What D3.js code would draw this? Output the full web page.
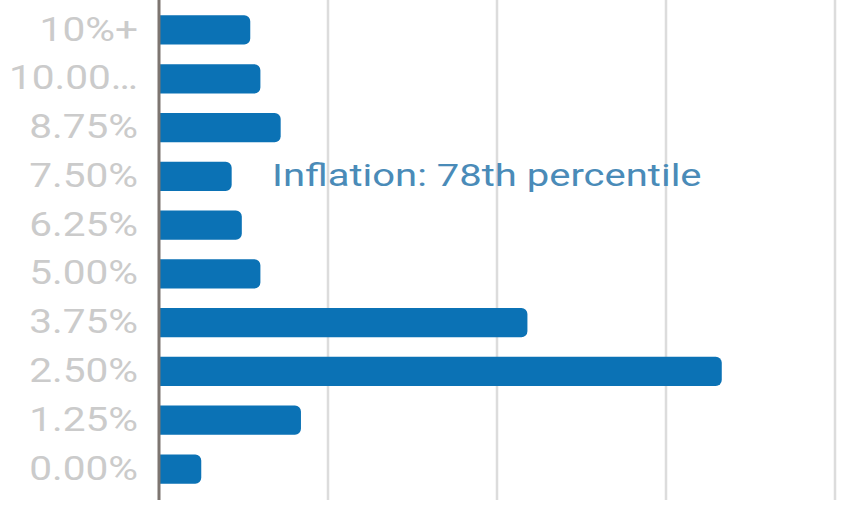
<!DOCTYPE html>
<html>
<head>
<meta charset="utf-8">
<script src="https://d3js.org/d3.v7.min.js"></script>
<style>
  body { margin: 0; background: #fff; }
  text { font-family: Roboto, sans-serif; }
</style>
</head>
<body>
<div id="my_dataviz"></div>
<script>
// data (share of answers, %)
var categories = ["10%+", "10.00…", "8.75%", "7.50%", "6.25%", "5.00%", "3.75%", "2.50%", "1.25%", "0.00%"];
var values = [5.4, 6.0, 7.2, 4.3, 4.9, 6.0, 21.8, 33.3, 8.4, 2.5];
var xTicks = [0, 10, 20, 30, 40];
var annotation = "Inflation: 78th percentile";

var width = 845, height = 505;
// the source picture is stretched sideways, so the text is too
var stretch = 1.23;

var svg = d3.select("#my_dataviz")
  .append("svg")
    .attr("width", width)
    .attr("height", height);

var data = categories.map(function(c, i) { return {cat: c, val: values[i]}; });

var x = d3.scaleLinear()
  .domain([0, 40])
  .range([159, 835]);

var y = d3.scaleBand()
  .domain(categories)
  .range([5.6, 493.4])
  .paddingInner(0.4)
  .paddingOuter(0.2);

// gridlines
svg.append("g")
  .selectAll("line")
  .data(xTicks.slice(1))
  .enter().append("line")
    .attr("x1", function(d) { return x(d); })
    .attr("x2", function(d) { return x(d); })
    .attr("y1", 0)
    .attr("y2", 500)
    .attr("stroke", "#dcdcdc")
    .attr("stroke-width", 2.5);

// bars with rounded right end
var r = 6;
svg.selectAll(".bar")
  .data(data)
  .enter().append("path")
    .attr("class", "bar")
    .attr("fill", "#0b72b5")
    .attr("d", function(d) {
      var x0 = x(0) + 1, x1 = x(d.val), y0 = y(d.cat), h = y.bandwidth();
      var p = d3.path();
      p.moveTo(x0, y0);
      p.lineTo(x1 - r, y0);
      p.arcTo(x1, y0, x1, y0 + r, r);
      p.lineTo(x1, y0 + h - r);
      p.arcTo(x1, y0 + h, x1 - r, y0 + h, r);
      p.lineTo(x0, y0 + h);
      p.closePath();
      return p.toString();
    });

// y axis labels
var yAxis = svg.append("g")
  .attr("transform", "translate(" + x(0) + ",0)")
  .call(d3.axisLeft(y).tickSize(0).tickPadding(21));
yAxis.select(".domain").remove();
yAxis.selectAll("text")
  .attr("x", 0)
  .attr("transform", "translate(-21,0) scale(" + stretch + ",1)")
  .style("font-family", "Roboto, sans-serif")
  .style("font-size", "33px")
  .attr("fill", "#cbcbcb");

// axis line
svg.append("line")
  .attr("x1", x(0)).attr("x2", x(0))
  .attr("y1", 0).attr("y2", 500)
  .attr("stroke", "#7d7570")
  .attr("stroke-width", 3);

svg.append("text")
  .attr("transform", "translate(272,186) scale(1.25,1)")
  .text(annotation)
  .style("font-size", "32px")
  .attr("fill", "#4a8bb8");
</script>
</body>
</html>
